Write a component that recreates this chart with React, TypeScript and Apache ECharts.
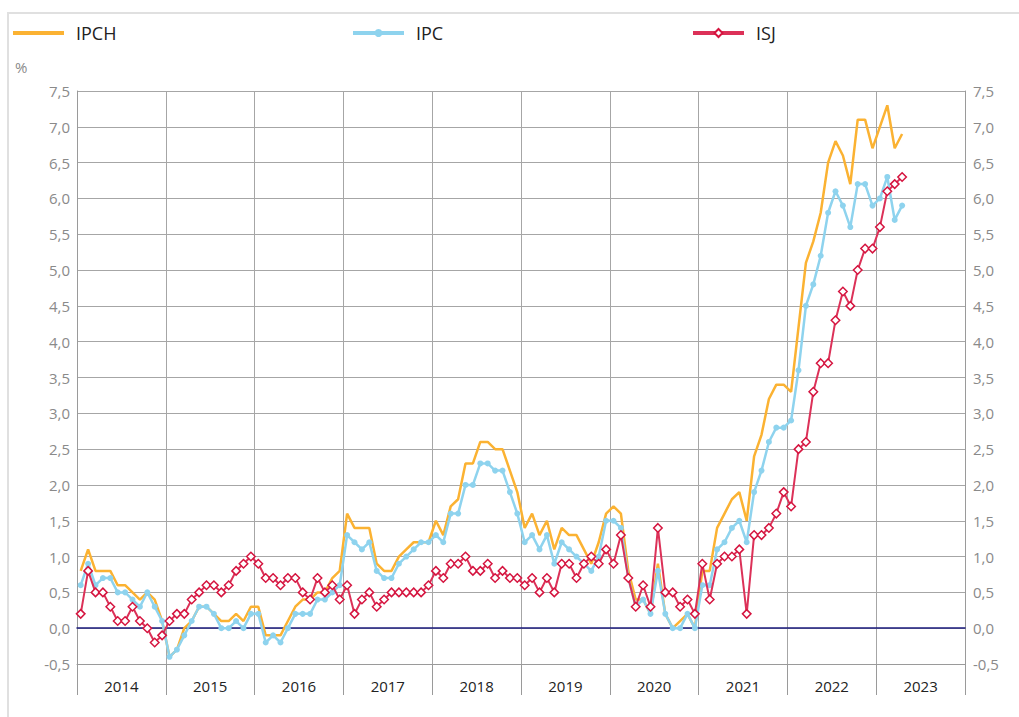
import React, { useEffect, useRef } from "react";
import * as echarts from "echarts";

const years = ["2014", "2015", "2016", "2017", "2018", "2019", "2020", "2021", "2022", "2023"];
const monthNames = ["01", "02", "03", "04", "05", "06", "07", "08", "09", "10", "11", "12"];
const months: string[] = [];
years.forEach((y) => monthNames.forEach((m) => months.push(y + "-" + m)));

const yTicks = [-0.5, 7.5, 0.5]; // min, max, step

// IPCH (Jan 2014 – Apr 2023)
const ipch = [
  0.8, 1.1, 0.8, 0.8, 0.8, 0.6, 0.6, 0.5, 0.4, 0.5, 0.4, 0.1,
  -0.4, -0.3, 0.0, 0.1, 0.3, 0.3, 0.2, 0.1, 0.1, 0.2, 0.1, 0.3,
  0.3, -0.1, -0.1, -0.1, 0.1, 0.3, 0.4, 0.4, 0.5, 0.5, 0.7, 0.8,
  1.6, 1.4, 1.4, 1.4, 0.9, 0.8, 0.8, 1.0, 1.1, 1.2, 1.2, 1.2,
  1.5, 1.3, 1.7, 1.8, 2.3, 2.3, 2.6, 2.6, 2.5, 2.5, 2.2, 1.9,
  1.4, 1.6, 1.3, 1.5, 1.1, 1.4, 1.3, 1.3, 1.1, 0.9, 1.2, 1.6,
  1.7, 1.6, 0.8, 0.4, 0.4, 0.2, 0.9, 0.2, 0.0, 0.1, 0.2, 0.0,
  0.8, 0.8, 1.4, 1.6, 1.8, 1.9, 1.5, 2.4, 2.7, 3.2, 3.4, 3.4,
  3.3, 4.2, 5.1, 5.4, 5.8, 6.5, 6.8, 6.6, 6.2, 7.1, 7.1, 6.7,
  7.0, 7.3, 6.7, 6.9,
];

// IPC
const ipc = [
  0.6, 0.9, 0.6, 0.7, 0.7, 0.5, 0.5, 0.4, 0.3, 0.5, 0.3, 0.1,
  -0.4, -0.3, -0.1, 0.1, 0.3, 0.3, 0.2, 0.0, 0.0, 0.1, 0.0, 0.2,
  0.2, -0.2, -0.1, -0.2, 0.0, 0.2, 0.2, 0.2, 0.4, 0.4, 0.5, 0.6,
  1.3, 1.2, 1.1, 1.2, 0.8, 0.7, 0.7, 0.9, 1.0, 1.1, 1.2, 1.2,
  1.3, 1.2, 1.6, 1.6, 2.0, 2.0, 2.3, 2.3, 2.2, 2.2, 1.9, 1.6,
  1.2, 1.3, 1.1, 1.3, 0.9, 1.2, 1.1, 1.0, 0.9, 0.8, 1.0, 1.5,
  1.5, 1.4, 0.7, 0.3, 0.4, 0.2, 0.8, 0.2, 0.0, 0.0, 0.2, 0.0,
  0.6, 0.6, 1.1, 1.2, 1.4, 1.5, 1.2, 1.9, 2.2, 2.6, 2.8, 2.8,
  2.9, 3.6, 4.5, 4.8, 5.2, 5.8, 6.1, 5.9, 5.6, 6.2, 6.2, 5.9,
  6.0, 6.3, 5.7, 5.9,
];

// ISJ
const isj = [
  0.2, 0.8, 0.5, 0.5, 0.3, 0.1, 0.1, 0.3, 0.1, 0.0, -0.2, -0.1,
  0.1, 0.2, 0.2, 0.4, 0.5, 0.6, 0.6, 0.5, 0.6, 0.8, 0.9, 1.0,
  0.9, 0.7, 0.7, 0.6, 0.7, 0.7, 0.5, 0.4, 0.7, 0.5, 0.6, 0.4,
  0.6, 0.2, 0.4, 0.5, 0.3, 0.4, 0.5, 0.5, 0.5, 0.5, 0.5, 0.6,
  0.8, 0.7, 0.9, 0.9, 1.0, 0.8, 0.8, 0.9, 0.7, 0.8, 0.7, 0.7,
  0.6, 0.7, 0.5, 0.7, 0.5, 0.9, 0.9, 0.7, 0.9, 1.0, 0.9, 1.1,
  0.9, 1.3, 0.7, 0.3, 0.6, 0.3, 1.4, 0.5, 0.5, 0.3, 0.4, 0.2,
  0.9, 0.4, 0.9, 1.0, 1.0, 1.1, 0.2, 1.3, 1.3, 1.4, 1.6, 1.9,
  1.7, 2.5, 2.6, 3.3, 3.7, 3.7, 4.3, 4.7, 4.5, 5.0, 5.3, 5.3,
  5.6, 6.1, 6.2, 6.3,
];

const FONT = "'Open Sans', 'Noto Sans', sans-serif";
const fmt = (v: number) => v.toFixed(1).replace(".", ",");

export default function App() {
  const ref = useRef<HTMLDivElement>(null);
  useEffect(() => {
    if (!ref.current) return;
    const chart = echarts.init(ref.current, undefined, { renderer: "svg" });
    const yAxisBase = {
      type: "value",
      min: yTicks[0],
      max: yTicks[1],
      interval: yTicks[2],
      axisTick: { show: false },
      axisLine: { show: true, lineStyle: { color: "#9a9a9a", width: 1 } },
    };
    const legendBase = {
      itemWidth: 51,
      itemHeight: 10,
      top: 24,
      padding: 0,
      textStyle: { fontSize: 18, color: "#222", fontFamily: FONT, padding: [0, 0, 0, 7] },
      lineStyle: { width: 4 },
      selectedMode: false,
    };
    chart.setOption({
      animation: false,
      backgroundColor: "#ffffff",
      textStyle: { fontFamily: FONT },
      grid: { left: 77, right: 54, top: 91, bottom: 53, outerBoundsMode: "none", containLabel: false },
      legend: [
        { ...legendBase, left: 11, data: ["IPCH"], itemStyle: { opacity: 0 } },
        { ...legendBase, left: 351, data: ["IPC"] },
        { ...legendBase, left: 691, data: ["ISJ"] },
      ],
      graphic: [
        {
          type: "rect",
          shape: { x: 8, y: 13, width: 1300, height: 900 },
          style: { fill: "none", stroke: "#e0e0e0", lineWidth: 2 },
          silent: true,
          z: -10,
        },
        {
          type: "text",
          x: 15,
          y: 59,
          style: { text: "%", fontSize: 15, fill: "#8a8a8a", fontFamily: FONT },
        },
      ],
      xAxis: [
        {
          type: "category",
          data: months,
          boundaryGap: true,
          position: "bottom",
          axisLine: { show: true, onZero: true, lineStyle: { color: "#1b1b7d", width: 1.5 } },
          axisTick: { show: false },
          axisLabel: { show: false },
          splitLine: { show: false },
          z: 1,
        },
        {
          type: "category",
          data: years,
          boundaryGap: true,
          position: "bottom",
          axisLine: { show: true, onZero: false, lineStyle: { color: "#9a9a9a", width: 1 } },
          axisTick: { show: true, length: 31, interval: 0, lineStyle: { color: "#9a9a9a", width: 1 } },
          axisLabel: { show: true, interval: 0, color: "#222", fontSize: 15, margin: 14, fontFamily: FONT },
          splitLine: { show: true, interval: 0, lineStyle: { color: "#a6a6a6", width: 1 } },
        },
      ],
      yAxis: [
        {
          ...yAxisBase,
          position: "left",
          axisLabel: { formatter: fmt, color: "#8a8a8a", fontSize: 15, margin: 7, fontFamily: FONT },
          splitLine: { show: true, lineStyle: { color: "#a6a6a6", width: 1 } },
        },
        {
          ...yAxisBase,
          position: "right",
          axisLabel: { formatter: fmt, color: "#8a8a8a", fontSize: 15, margin: 8, fontFamily: FONT },
          splitLine: { show: false },
        },
      ],
      series: [
        {
          name: "IPCH",
          type: "line",
          data: ipch,
          xAxisIndex: 0,
          yAxisIndex: 0,
          symbol: "none",
          color: "#fbb232",
          lineStyle: { color: "#fbb232", width: 2.5 },
          z: 3,
        },
        {
          name: "IPC",
          type: "line",
          data: ipc,
          xAxisIndex: 0,
          yAxisIndex: 0,
          symbol: "circle",
          symbolSize: 6,
          showAllSymbol: true,
          color: "#8ed3ee",
          itemStyle: { color: "#8ed3ee" },
          lineStyle: { color: "#8ed3ee", width: 2.5 },
          z: 4,
        },
        {
          name: "ISJ",
          type: "line",
          data: isj,
          xAxisIndex: 0,
          yAxisIndex: 0,
          symbol: "diamond",
          symbolSize: 8.5,
          showAllSymbol: true,
          color: "#dc3158",
          itemStyle: { color: "#ffffff", borderColor: "#d5143f", borderWidth: 1.5 },
          lineStyle: { color: "#dc3158", width: 2 },
          z: 5,
        },
      ],
    });
    return () => chart.dispose();
  }, []);
  return (
    <div
      ref={ref}
      style={{ position: "fixed", left: 0, top: 0, width: 1019, height: 717, background: "#fff" }}
    />
  );
}
